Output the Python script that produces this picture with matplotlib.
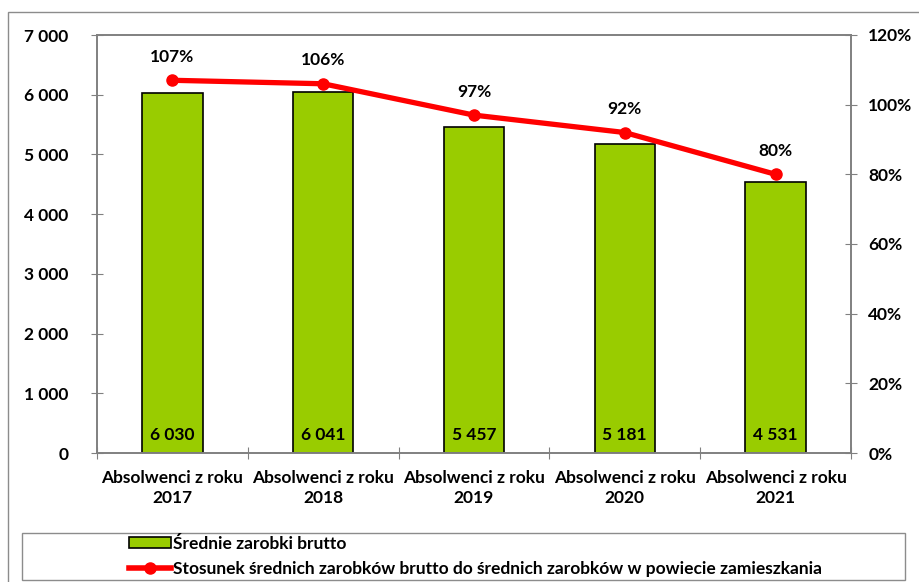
import matplotlib.pyplot as plt
from matplotlib.patches import Rectangle
from matplotlib.ticker import FuncFormatter, MultipleLocator
from matplotlib.lines import Line2D

plt.rcParams['font.family'] = ['Lato', 'DejaVu Sans']
plt.rcParams['font.weight'] = 'bold'

categories = ['Absolwenci z roku\n2017', 'Absolwenci z roku\n2018', 'Absolwenci z roku\n2019',
              'Absolwenci z roku\n2020', 'Absolwenci z roku\n2021']
earnings = [6030, 6041, 5457, 5181, 4531]
ratio = [1.07, 1.06, 0.97, 0.92, 0.80]

bar_name = 'Średnie zarobki brutto'
line_name = 'Stosunek średnich zarobków brutto do średnich zarobków w powiecie zamieszkania'

FS = 12.5
W, H = 919, 582
fig = plt.figure(figsize=(W / 100, H / 100), dpi=100)
ax = fig.add_axes([97 / W, 1 - 453 / H, (851 - 97) / W, (453 - 35) / H])
ax2 = ax.twinx()

# outer frame
fig.add_artist(Rectangle((8 / W, -0.05), 1.2, 1 - 12 / H + 0.05, transform=fig.transFigure,
                         fill=False, edgecolor='#8c8c8c', linewidth=1))
# legend frame
fig.add_artist(Rectangle((22 / W, 1 - 580 / H), (905 - 22) / W, (580 - 533) / H,
                         transform=fig.transFigure, fill=False, edgecolor='#8c8c8c', linewidth=1))

x = list(range(len(categories)))
ax.bar(x, earnings, width=0.4, color='#99cc00', edgecolor='black', linewidth=1.2, zorder=2)
for xi, v in zip(x, earnings):
    ax.text(xi, 300, f'{v:,}'.replace(',', ' '), ha='center', va='center', fontsize=FS,
            fontweight='bold', zorder=3)

ax2.plot(x, ratio, color='#ff0000', linewidth=3.8, marker='o', markersize=8, zorder=3)
for xi, r in zip(x, ratio):
    ax2.annotate(f'{round(r * 100)}%', (xi, r), xytext=(0, 11), textcoords='offset points',
                 ha='center', va='bottom', fontsize=FS, fontweight='bold')

ax.set_xlim(-0.5, len(categories) - 0.5)
ax.set_ylim(0, 7000)
ax2.set_ylim(0, 1.2)
ax.yaxis.set_major_locator(MultipleLocator(1000))
ax2.yaxis.set_major_locator(MultipleLocator(0.2))
ax.yaxis.set_major_formatter(FuncFormatter(lambda v, p: f'{int(v):,}'.replace(',', ' ')))
ax2.yaxis.set_major_formatter(FuncFormatter(lambda v, p: f'{round(v * 100)}%'))

ax.set_xticks([i - 0.5 for i in range(len(categories) + 1)])
ax.set_xticklabels([])
ax.set_xticks(x, minor=True)
ax.set_xticklabels(categories, minor=True, linespacing=1.35)
ax.tick_params(axis='x', which='minor', length=0, pad=12, labelsize=FS)
ax.tick_params(axis='x', which='major', direction='inout', length=9, color='#808080')
ax.tick_params(axis='y', direction='inout', length=9, color='#808080', labelsize=FS, pad=16)
ax2.tick_params(axis='y', direction='inout', length=9, color='#808080', labelsize=FS, pad=8)
for a in (ax, ax2):
    for s in a.spines.values():
        s.set_color('#808080')
        s.set_linewidth(1.2)

handles = [Rectangle((0, 0), 1, 1, facecolor='#99cc00', edgecolor='black', linewidth=1.2),
           Line2D([0], [0], color='#ff0000', linewidth=4, marker='o', markersize=8)]
leg = fig.legend(handles, [bar_name, line_name], loc='upper left',
                 bbox_to_anchor=(129 / W, 1 - 536 / H), bbox_transform=fig.transFigure,
                 fontsize=FS, frameon=False, handlelength=2.4, handletextpad=0.15,
                 labelspacing=0.5, borderpad=0, borderaxespad=0, handleheight=0.6)

fig.savefig('out.png', dpi=100)
